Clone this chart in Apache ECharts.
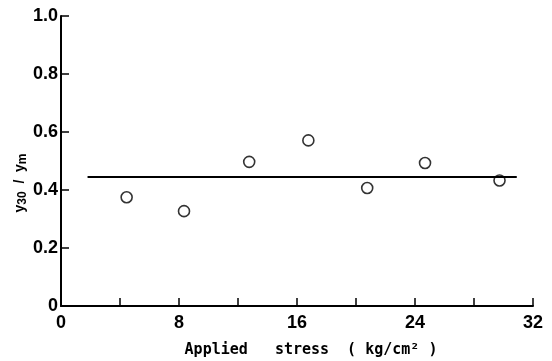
<!DOCTYPE html>
<html>
<head>
<meta charset="utf-8">
<script src="https://cdn.jsdelivr.net/npm/echarts@6/dist/echarts.min.js"></script>
<style>
    html, body { margin: 0; padding: 0; background: #fff; }
    #chart { width: 552px; height: 361px; }
</style>
</head>
<body>
<div id="chart"></div>
<script>
    // measured points
    var stress = [4.45, 8.34, 12.76, 16.77, 20.76, 24.68, 29.73];
    var ratio = [0.375, 0.327, 0.497, 0.571, 0.407, 0.493, 0.433];
    // mean line
    var meanX = [1.8, 30.9];
    var meanY = [0.445, 0.445];
    var xLabels = [0, 8, 16, 24, 32];

    var chart = echarts.init(document.getElementById('chart'));
    var labelFont = {color: '#000', fontFamily: 'Liberation Sans', fontWeight: 'bold', fontSize: 18};

    chart.setOption({
        animation: false,
        grid: {left: 61, right: 19, top: 16, bottom: 55, outerBoundsMode: 'none'},
        xAxis: {
            type: 'value',
            min: 0,
            max: 32,
            interval: 4,
            name: 'Applied   stress  ( kg/cm² )',
            nameLocation: 'middle',
            nameGap: 37,
            nameTextStyle: {
                color: '#000', fontFamily: 'DejaVu Sans Mono', fontWeight: 'bold',
                fontSize: 15, padding: [0, 0, 0, 28]
            },
            axisLine: {lineStyle: {color: '#000', width: 2}},
            axisTick: {inside: true, length: 8, lineStyle: {color: '#000', width: 1.5}},
            splitLine: {show: false},
            axisLabel: Object.assign({
                margin: 8,
                formatter: function (v) { return xLabels.indexOf(v) >= 0 ? String(v) : ''; }
            }, labelFont)
        },
        yAxis: {
            type: 'value',
            min: 0,
            max: 1,
            interval: 0.2,
            name: '{a|y}{s|30}{a|  /  y}{s|m}',
            nameLocation: 'middle',
            nameMoveOverlap: false,
            nameGap: 32,
            nameTextStyle: {
                padding: [0, 44, 0, 0],
                rich: {
                    a: {color: '#000', fontFamily: 'Liberation Sans', fontWeight: 'bold', fontSize: 14, lineHeight: 18},
                    s: {color: '#000', fontFamily: 'Liberation Sans', fontWeight: 'bold', fontSize: 12, lineHeight: 18, padding: [6, 0, 0, 0]}
                }
            },
            axisLine: {show: true, lineStyle: {color: '#000', width: 2}},
            axisTick: {show: true, inside: true, length: 8, lineStyle: {color: '#000', width: 1.5}},
            splitLine: {show: false},
            axisLabel: Object.assign({
                margin: 3,
                formatter: function (v) { return v === 0 ? '0' : v.toFixed(1); }
            }, labelFont)
        },
        series: [
            {
                type: 'line',
                data: meanX.map(function (x, i) { return [x, meanY[i]]; }),
                symbol: 'none',
                lineStyle: {color: '#000', width: 2}
            },
            {
                type: 'scatter',
                data: stress.map(function (x, i) { return [x, ratio[i]]; }),
                symbol: 'circle',
                symbolSize: 11,
                itemStyle: {color: '#fff', borderColor: '#000', borderWidth: 1.6}
            }
        ]
    });
</script>
</body>
</html>
